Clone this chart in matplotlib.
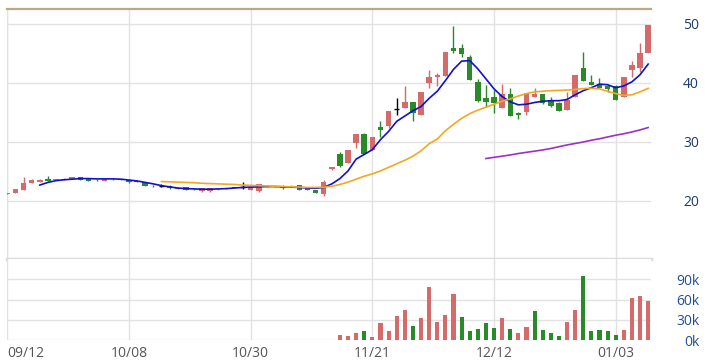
import matplotlib
matplotlib.use('Agg')
import matplotlib.pyplot as plt
import numpy as np

# trading-day candles, 09/12 .. 01/06
opens = [21.25, 21.4, 21.9, 23.1, 23.2, 23.75, 23.55, 23.6, 23.7, 24.05,
         23.75, 23.6, 23.4, 23.7, 23.6, 23.55, 23.4, 23.25, 22.6, 22.55,
         22.6, 22.1, 22.3, 22.05, 21.65, 21.65, 21.95, 22.0, 22.35, 22.4,
         21.9, 21.65, 22.45, 22.35, 22.6, 22.55, 22.7, 22.25, 21.85, 21.2,
         25.5, 27.95, 26.4, 29.9, 31.35, 28.6, 32.6, 32.7, 35.6, 35.7,
         36.7, 34.6, 40.05, 40.95, 41.2, 45.9, 45.9, 44.35, 40.2, 37.5,
         37.7, 35.7, 38.1, 34.9, 35.0, 37.7, 38.15, 37.1, 36.65, 35.4,
         37.7, 42.5, 40.2, 39.8, 39.5, 39.5, 37.7, 42.2, 42.5, 45.0]
highs = [21.4, 22.0, 24.05, 23.8, 23.8, 24.2, 23.8, 23.9, 24.1, 24.1,
         23.8, 23.7, 23.75, 23.8, 23.75, 23.6, 23.45, 23.3, 22.75, 22.8,
         22.65, 22.3, 22.35, 22.1, 22.2, 22.2, 22.1, 22.2, 22.4, 23.25,
         22.45, 22.8, 22.5, 22.5, 22.65, 22.7, 22.75, 22.3, 21.9, 23.5,
         25.8, 28.25, 28.6, 31.35, 31.6, 30.9, 33.6, 35.3, 37.4, 39.5,
         36.8, 38.4, 42.2, 41.75, 45.3, 49.65, 46.6, 44.7, 40.7, 39.7,
         38.8, 39.8, 39.1, 35.1, 38.25, 39.1, 38.2, 37.6, 36.7, 38.5,
         41.35, 45.3, 41.35, 40.8, 39.7, 39.6, 41.1, 43.8, 46.8, 49.8]
lows = [21.2, 21.4, 21.9, 23.1, 23.2, 23.4, 23.5, 23.55, 23.7, 23.55,
        23.35, 23.4, 23.4, 23.6, 23.55, 23.1, 23.2, 22.5, 22.45, 22.4,
        22.1, 22.05, 21.85, 21.9, 21.6, 21.6, 21.9, 21.95, 22.2, 22.1,
        21.85, 21.6, 22.3, 22.3, 22.1, 22.5, 21.85, 21.85, 21.3, 20.8,
        25.2, 25.8, 26.4, 29.0, 28.0, 28.6, 30.9, 32.4, 34.6, 35.7,
        33.6, 34.6, 39.1, 39.5, 41.2, 45.1, 44.35, 40.5, 36.8, 36.0,
        34.9, 35.7, 34.4, 33.85, 34.6, 37.6, 36.5, 35.9, 35.3, 35.4,
        37.7, 40.4, 39.6, 39.1, 38.5, 37.2, 37.6, 41.0, 41.9, 45.0]
closes = [21.35, 21.95, 23.05, 23.5, 23.6, 23.45, 23.7, 23.8, 24.0, 23.6,
          23.4, 23.5, 23.75, 23.65, 23.7, 23.15, 23.25, 22.55, 22.5, 22.55,
          22.15, 22.25, 21.9, 21.95, 22.15, 22.15, 22.05, 22.15, 22.25, 22.4,
          22.4, 22.8, 22.35, 22.45, 22.15, 22.6, 21.9, 21.9, 21.35, 23.3,
          25.8, 25.85, 28.6, 31.35, 28.05, 30.9, 32.05, 35.3, 35.6, 36.7,
          34.9, 38.4, 41.1, 41.35, 45.3, 45.35, 44.9, 40.5, 36.9, 36.8,
          36.6, 38.1, 34.4, 34.6, 38.25, 38.15, 36.55, 36.1, 35.3, 37.2,
          41.35, 40.4, 39.65, 39.1, 38.9, 37.2, 41.1, 43.05, 45.1, 49.8]

# moving averages (start index, values)
ma5_start = 4
ma5 = [22.7, 23.15, 23.45, 23.6, 23.7, 23.8, 23.8, 23.75, 23.75, 23.75,
       23.7, 23.55, 23.4, 23.15, 22.9, 22.6, 22.4, 22.2, 22.1, 22.05,
       22.0, 22.0, 22.05, 22.1, 22.2, 22.3, 22.35, 22.4, 22.45, 22.45,
       22.4, 22.35, 22.3, 22.2, 22.15, 22.3, 22.9, 23.8, 25.1, 27.1,
       27.9, 28.7, 30.4, 31.8, 33.5, 34.4, 35.3, 36.0, 37.4, 38.6,
       40.4, 42.3, 43.7, 43.8, 42.4, 40.7, 39.0, 37.7, 36.8, 36.3,
       36.4, 36.7, 36.9, 37.0, 37.0, 37.2, 38.0, 38.7, 39.2, 39.8,
       39.7, 39.2, 39.5, 40.2, 41.4, 43.2]
ma20_start = 19
ma20 = [23.3, 23.25, 23.2, 23.15, 23.1, 23.0, 22.95, 22.9, 22.85, 22.8,
        22.7, 22.65, 22.6, 22.55, 22.5, 22.45, 22.4, 22.35, 22.3, 22.3,
        22.35, 22.5, 22.8, 23.2, 23.7, 24.2, 24.6, 25.1, 25.7, 26.3,
        26.9, 27.6, 28.5, 29.7, 30.5, 31.9, 33.0, 34.0, 34.8, 35.4,
        35.9, 36.4, 36.9, 37.3, 37.8, 38.2, 38.5, 38.6, 38.7, 38.75,
        38.8, 38.9, 39.05, 39.1, 39.0, 38.6, 38.2, 37.9, 38.0, 38.5, 39.1]
ma60_start = 59
ma60 = [27.2, 27.4, 27.6, 27.8, 28.05, 28.25, 28.45, 28.65, 28.9, 29.2,
        29.5, 29.75, 30.0, 30.3, 30.55, 30.85, 31.15, 31.4, 31.7, 32.05, 32.45]

# volume (shares), first bar at index 41
vol_start = 41
volume = [7.4, 5.9, 9.9, 13.8, 3.9, 24.6, 13.8, 35.5, 44.3, 20.7,
          32.0, 77.8, 26.6, 36.9, 67.5, 33.5, 13.8, 16.7, 24.6, 17.2,
          32.0, 16.7, 9.9, 18.7, 42.9, 14.8, 9.9, 5.9, 26.6, 44.3,
          94.6, 13.8, 14.8, 13.3, 7.4, 14.8, 61.6, 65.0, 58.1]
volume = [v * 1000 for v in volume]

tick_pos = [0, 15, 30, 45, 60, 75]
tick_lbl = ['09/12', '10/08', '10/30', '11/21', '12/12', '01/03']
price_ticks = [20, 30, 40, 50]
vol_ticks = [0, 30000, 60000, 90000]

UP = '#d46a6a'
DOWN = '#2a8a2a'
GRID = '#e2e2e2'

plt.rcParams['font.family'] = ['Open Sans', 'DejaVu Sans']

fig = plt.figure(figsize=(7.07, 3.63), dpi=100)
L, W = 6.7 / 707, (651 - 6.7) / 707
ax = fig.add_axes([L, (363 - 259) / 363, W, 250 / 363])
axv = fig.add_axes([L, (363 - 340) / 363, W, 81 / 363])

n = len(closes)
for i in range(n):
    o, h, l, c = opens[i], highs[i], lows[i], closes[i]
    if c > o:
        col = UP
    elif c < o:
        col = DOWN
    else:
        col = 'black'
    ax.vlines(i, l, h, color=col, linewidth=1.0, zorder=3)
    if c == o:
        ax.hlines(c, i - 0.32, i + 0.32, color=col, linewidth=1.0, zorder=3)
    else:
        ax.bar(i, abs(c - o), bottom=min(o, c), width=0.68, color=col,
               linewidth=0, zorder=3)

ax.plot(np.arange(ma5_start, ma5_start + len(ma5)), ma5, color='#1010d0', lw=1.2, zorder=4)
ax.plot(np.arange(ma20_start, ma20_start + len(ma20)), ma20, color='#f5a623', lw=1.2, zorder=4)
ax.plot(np.arange(ma60_start, ma60_start + len(ma60)), ma60, color='#9b30c8', lw=1.2, zorder=4)

# volume bars coloured by change vs previous close
vx = np.arange(vol_start, vol_start + len(volume))
vcol = [UP if closes[i] >= closes[i - 1] else DOWN for i in vx]
axv.bar(vx, volume, width=0.5, color=vcol, linewidth=0, zorder=3)

xl = (-0.08, 79.35)
for a in (ax, axv):
    a.set_xlim(*xl)
    for s in a.spines.values():
        s.set_visible(False)
    a.set_xticks(tick_pos)
    a.grid(True, color=GRID, linewidth=1.0, zorder=0)
    a.yaxis.tick_right()
    a.tick_params(axis='both', length=0)
    a.set_axisbelow(True)

ax.set_ylim(10.17, 52.54)
ax.set_yticks(price_ticks)
ax.set_yticklabels([str(t) for t in price_ticks])
ax.tick_params(axis='y', pad=34.6, labelsize=10, labelcolor='#1d3a6b')
for t in ax.get_yticklabels():
    t.set_horizontalalignment('right')
ax.set_xticklabels([])
ax.axhline(52.54, color='#bba982', linewidth=1.6, zorder=5, clip_on=False)
ax.axhline(10.17, color='#dcdcdc', linewidth=2.5, zorder=5, clip_on=False)
ax.axvline(xl[0] + 0.05, color=GRID, lw=1.0, zorder=0)

axv.set_ylim(0, 120000)
axv.set_yticks(vol_ticks)
axv.set_yticklabels(['%dk' % (t // 1000) for t in vol_ticks])
axv.tick_params(axis='y', pad=34.6, labelsize=10, labelcolor='#1f4f9c')
for t in axv.get_yticklabels():
    t.set_horizontalalignment('right')
axv.set_xticklabels(tick_lbl)
axv.tick_params(axis='x', pad=4, labelsize=10, labelcolor='#555555')
axv.get_xticklabels()[0].set_horizontalalignment('left')

fig.savefig('out.png', dpi=100)
